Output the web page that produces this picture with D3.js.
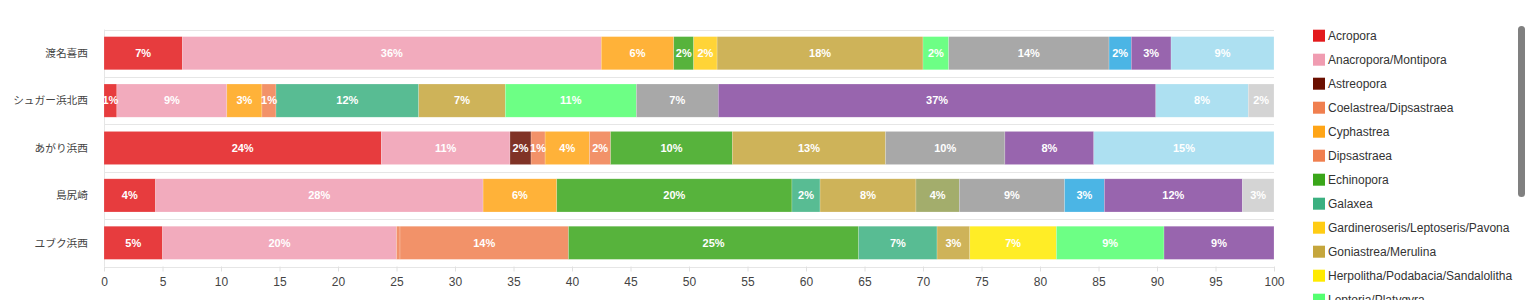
<!DOCTYPE html>
<html lang="ja">
<head>
<meta charset="UTF-8">
<title>Coral composition by site</title>
<script src="https://d3js.org/d3.v7.min.js"></script>
<style>
  body { margin: 0; background: #fff; font-family: "Liberation Sans", Arial, "Noto Sans CJK JP", sans-serif; }
  .grid line { stroke: #e6e6e6; }
  .tick text { fill: #444; font-size: 12px; }
  .ylab { fill: #444; font-size: 10.7px; font-family: "Noto Sans CJK JP", sans-serif; }
  .seg-label { fill: #fff; font-size: 11px; font-weight: bold; }
  .legend text { fill: #333; font-size: 12px; }
</style>
</head>
<body>
<div id="chart"></div>
<script>
// sites (rows)
const sites = ['渡名喜西', 'シュガー浜北西', 'あがり浜西', '島尻崎', 'ユブク浜西'];

// genera in stacking / legend order
const genera = [
  'Acropora', 'Anacropora/Montipora', 'Astreopora', 'Coelastrea/Dipsastraea',
  'Cyphastrea', 'Dipsastraea', 'Echinopora', 'Galaxea',
  'Gardineroseris/Leptoseris/Pavona', 'Goniastrea/Merulina',
  'Herpolitha/Podabacia/Sandalolitha', 'Leptoria/Platygyra',
  'Lobophyllia', 'Montastraea', 'Pocillopora', 'Porites', 'Seriatopora', 'Others'
];

const colors = [
  '#e31a1c', '#f09cb1', '#6a0f00', '#f07f4f',
  '#ffa516', '#f07f4f', '#3aa61a', '#3bb080',
  '#ffcc14', '#c5a63c', '#ffea00', '#54ff70',
  '#939f52', '#999999', '#2ba8e1', '#864aa0', '#9fdaee', '#cccccc'
];

// percentage cover per site, same order as genera
const tonakiWest   = [6.7, 35.8, 0, 0, 6.2, 0, 1.7, 0, 2.0, 17.6, 0, 2.2, 0, 13.7, 1.9, 3.4, 8.8, 0];
const sugarNW      = [1.1, 9.4, 0, 0, 3.0, 1.2, 0, 12.2, 0, 7.4, 0, 11.2, 0, 7.0, 0, 37.4, 7.9, 2.2];
const agariWest    = [23.7, 11.0, 1.8, 1.2, 3.8, 1.8, 10.4, 0, 0, 13.1, 0, 0, 0, 10.2, 0, 7.6, 15.4, 0];
const shimajiri    = [4.4, 28.0, 0, 0, 6.3, 0, 20.1, 2.4, 0, 8.2, 0, 0, 3.7, 9.0, 3.4, 11.8, 0, 2.7];
const yubukuWest   = [5.0, 20.0, 0, 0.3, 0, 14.4, 24.8, 6.7, 0, 2.8, 7.4, 9.2, 0, 0, 0, 9.4, 0, 0];

const siteValues = [tonakiWest, sugarNW, agariWest, shimajiri, yubukuWest];
const xTicks = d3.range(0, 101, 5);

const W = 1532, H = 300;
const svg = d3.select('#chart').append('svg').attr('width', W).attr('height', H);

const x = d3.scaleLinear().domain([0, 100]).range([104, 1274]);
const y = d3.scaleBand().domain(sites).range([29.5, 266.5]).paddingInner(0.3).paddingOuter(0.15);

// horizontal separators at band edges
const edges = sites.map(s => y(s) - y.step() * 0.15).concat([266.5]);
svg.append('g').attr('class', 'grid')
  .selectAll('line').data(edges).enter().append('line')
  .attr('x1', x(0)).attr('x2', x(100))
  .attr('y1', d => Math.round(d) + 0.5).attr('y2', d => Math.round(d) + 0.5);

svg.append('line')
  .attr('x1', x(0) + 0.5).attr('x2', x(0) + 0.5)
  .attr('y1', 29.5).attr('y2', 266.5)
  .attr('stroke', '#e6e6e6');

// stacked data
const rows = sites.map((s, i) => {
  let acc = 0;
  return siteValues[i].map((v, k) => {
    const seg = { site: s, key: k, x0: acc, x1: acc + v, v: v };
    acc += v;
    return seg;
  }).filter(d => d.v > 0);
});

const rowG = svg.selectAll('.row').data(rows).enter().append('g').attr('class', 'row');

rowG.selectAll('rect').data(d => d).enter().append('rect')
  .attr('x', d => x(d.x0))
  .attr('y', d => y(d.site))
  .attr('width', d => x(d.x1) - x(d.x0))
  .attr('height', y.bandwidth())
  .attr('fill', d => colors[d.key])
  .attr('fill-opacity', 0.85)
  .attr('stroke', '#fff')
  .attr('stroke-opacity', 0.4)
  .attr('stroke-width', 0.5);

rowG.selectAll('text').data(d => d.filter(s => s.v >= 0.5)).enter().append('text')
  .attr('class', 'seg-label')
  .attr('x', d => (x(d.x0) + x(d.x1)) / 2)
  .attr('y', d => y(d.site) + y.bandwidth() / 2)
  .attr('text-anchor', 'middle')
  .attr('dy', '0.35em')
  .text(d => Math.round(d.v) + '%');

// y labels
svg.selectAll('.ylab').data(sites).enter().append('text')
  .attr('class', 'ylab')
  .attr('x', 88)
  .attr('y', d => y(d) + y.bandwidth() / 2)
  .attr('dy', '0.35em')
  .attr('text-anchor', 'end')
  .text(d => d);

// x axis
const xAxis = svg.append('g')
  .attr('transform', 'translate(0,266.5)')
  .call(d3.axisBottom(x).tickValues(xTicks).tickSize(5).tickPadding(6));
xAxis.select('.domain').remove();
xAxis.selectAll('.tick line').attr('stroke', '#e0e0e0');
xAxis.selectAll('.tick text').style('font-family', '"Liberation Sans", Arial, sans-serif');

// legend (clipped, scrolled to top)
const legend = svg.append('g').attr('class', 'legend');
const item = legend.selectAll('g').data(genera).enter().append('g')
  .attr('transform', (d, i) => `translate(1313,${35.7 + i * 24})`);
item.append('rect')
  .attr('x', 0).attr('y', -6).attr('width', 12).attr('height', 12)
  .attr('fill', (d, i) => colors[i]);
item.append('text')
  .attr('x', 15).attr('dy', '0.35em')
  .text(d => d);

// scrollbar thumb of the legend panel
svg.append('rect')
  .attr('x', 1518).attr('y', 26).attr('width', 7).attr('height', 171)
  .attr('rx', 3.5).attr('fill', '#808080');
</script>
</body>
</html>
